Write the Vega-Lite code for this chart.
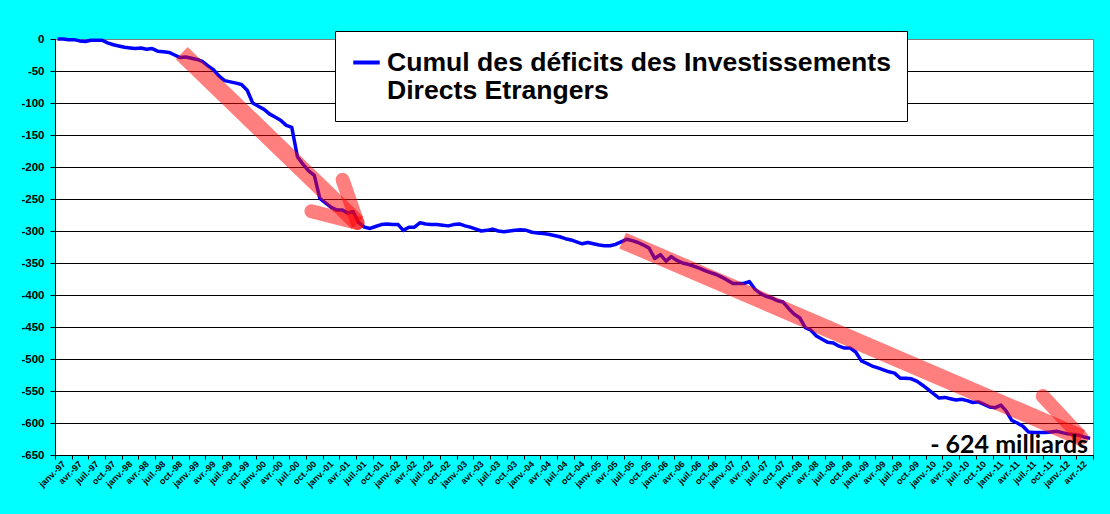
{
  "$schema": "https://vega.github.io/schema/vega-lite/v6.json",
  "width": 1038,
  "height": 416,
  "autosize": {"type": "none"},
  "padding": {"left": 55, "top": 39, "right": 17, "bottom": 59},
  "background": "#00FFFF",
  "config": {
    "view": {"fill": "white", "stroke": "#808080", "strokeWidth": 1},
    "font": "Liberation Sans"
  },
  "datasets": {
    "serie": [
      {"d": "1997-01-15", "v": 0}, {"d": "1997-02-15", "v": 0}, {"d": "1997-03-15", "v": -1}, {"d": "1997-04-15", "v": -1},
      {"d": "1997-05-15", "v": -3}, {"d": "1997-06-15", "v": -4}, {"d": "1997-07-15", "v": -2}, {"d": "1997-08-15", "v": -2},
      {"d": "1997-09-15", "v": -2}, {"d": "1997-10-15", "v": -6}, {"d": "1997-11-15", "v": -9}, {"d": "1997-12-15", "v": -11},
      {"d": "1998-01-15", "v": -13}, {"d": "1998-02-15", "v": -14}, {"d": "1998-03-15", "v": -15}, {"d": "1998-04-15", "v": -14},
      {"d": "1998-05-15", "v": -16}, {"d": "1998-06-15", "v": -15}, {"d": "1998-07-15", "v": -19}, {"d": "1998-08-15", "v": -20},
      {"d": "1998-09-15", "v": -21}, {"d": "1998-10-15", "v": -25}, {"d": "1998-11-15", "v": -29}, {"d": "1998-12-15", "v": -28},
      {"d": "1999-01-15", "v": -30}, {"d": "1999-02-15", "v": -32}, {"d": "1999-03-15", "v": -35}, {"d": "1999-04-15", "v": -42},
      {"d": "1999-05-15", "v": -48}, {"d": "1999-06-15", "v": -58}, {"d": "1999-07-15", "v": -65}, {"d": "1999-08-15", "v": -67},
      {"d": "1999-09-15", "v": -69}, {"d": "1999-10-15", "v": -71}, {"d": "1999-11-15", "v": -80}, {"d": "1999-12-15", "v": -100},
      {"d": "2000-01-15", "v": -105}, {"d": "2000-02-15", "v": -110}, {"d": "2000-03-15", "v": -117}, {"d": "2000-04-15", "v": -122},
      {"d": "2000-05-15", "v": -127}, {"d": "2000-06-15", "v": -135}, {"d": "2000-07-15", "v": -138}, {"d": "2000-08-15", "v": -184},
      {"d": "2000-09-15", "v": -196}, {"d": "2000-10-15", "v": -206}, {"d": "2000-11-15", "v": -213}, {"d": "2000-12-15", "v": -249},
      {"d": "2001-01-15", "v": -256}, {"d": "2001-02-15", "v": -263}, {"d": "2001-03-15", "v": -267}, {"d": "2001-04-15", "v": -267},
      {"d": "2001-05-15", "v": -272}, {"d": "2001-06-15", "v": -270}, {"d": "2001-07-15", "v": -287}, {"d": "2001-08-15", "v": -294},
      {"d": "2001-09-15", "v": -296}, {"d": "2001-10-15", "v": -293}, {"d": "2001-11-15", "v": -290}, {"d": "2001-12-15", "v": -289},
      {"d": "2002-01-15", "v": -290}, {"d": "2002-02-15", "v": -290}, {"d": "2002-03-15", "v": -299}, {"d": "2002-04-15", "v": -294},
      {"d": "2002-05-15", "v": -294}, {"d": "2002-06-15", "v": -287}, {"d": "2002-07-15", "v": -289}, {"d": "2002-08-15", "v": -290},
      {"d": "2002-09-15", "v": -290}, {"d": "2002-10-15", "v": -291}, {"d": "2002-11-15", "v": -292}, {"d": "2002-12-15", "v": -290},
      {"d": "2003-01-15", "v": -289}, {"d": "2003-02-15", "v": -292}, {"d": "2003-03-15", "v": -294}, {"d": "2003-04-15", "v": -297},
      {"d": "2003-05-15", "v": -300}, {"d": "2003-06-15", "v": -299}, {"d": "2003-07-15", "v": -297}, {"d": "2003-08-15", "v": -300},
      {"d": "2003-09-15", "v": -301}, {"d": "2003-10-15", "v": -300}, {"d": "2003-11-15", "v": -299}, {"d": "2003-12-15", "v": -298},
      {"d": "2004-01-15", "v": -299}, {"d": "2004-02-15", "v": -302}, {"d": "2004-03-15", "v": -303}, {"d": "2004-04-15", "v": -304},
      {"d": "2004-05-15", "v": -305}, {"d": "2004-06-15", "v": -307}, {"d": "2004-07-15", "v": -309}, {"d": "2004-08-15", "v": -312},
      {"d": "2004-09-15", "v": -314}, {"d": "2004-10-15", "v": -317}, {"d": "2004-11-15", "v": -320}, {"d": "2004-12-15", "v": -318},
      {"d": "2005-01-15", "v": -320}, {"d": "2005-02-15", "v": -322}, {"d": "2005-03-15", "v": -323}, {"d": "2005-04-15", "v": -323},
      {"d": "2005-05-15", "v": -321}, {"d": "2005-06-15", "v": -317}, {"d": "2005-07-15", "v": -313}, {"d": "2005-08-15", "v": -315},
      {"d": "2005-09-15", "v": -318}, {"d": "2005-10-15", "v": -322}, {"d": "2005-11-15", "v": -327}, {"d": "2005-12-15", "v": -343},
      {"d": "2006-01-15", "v": -337}, {"d": "2006-02-15", "v": -347}, {"d": "2006-03-15", "v": -340}, {"d": "2006-04-15", "v": -346},
      {"d": "2006-05-15", "v": -350}, {"d": "2006-06-15", "v": -352}, {"d": "2006-07-15", "v": -355}, {"d": "2006-08-15", "v": -358},
      {"d": "2006-09-15", "v": -362}, {"d": "2006-10-15", "v": -365}, {"d": "2006-11-15", "v": -368}, {"d": "2006-12-15", "v": -372},
      {"d": "2007-01-15", "v": -377}, {"d": "2007-02-15", "v": -382}, {"d": "2007-03-15", "v": -382}, {"d": "2007-04-15", "v": -382},
      {"d": "2007-05-15", "v": -379}, {"d": "2007-06-15", "v": -391}, {"d": "2007-07-15", "v": -398}, {"d": "2007-08-15", "v": -402},
      {"d": "2007-09-15", "v": -405}, {"d": "2007-10-15", "v": -409}, {"d": "2007-11-15", "v": -411}, {"d": "2007-12-15", "v": -421},
      {"d": "2008-01-15", "v": -430}, {"d": "2008-02-15", "v": -436}, {"d": "2008-03-15", "v": -451}, {"d": "2008-04-15", "v": -455},
      {"d": "2008-05-15", "v": -464}, {"d": "2008-06-15", "v": -469}, {"d": "2008-07-15", "v": -474}, {"d": "2008-08-15", "v": -475},
      {"d": "2008-09-15", "v": -480}, {"d": "2008-10-15", "v": -483}, {"d": "2008-11-15", "v": -483}, {"d": "2008-12-15", "v": -489},
      {"d": "2009-01-15", "v": -503}, {"d": "2009-02-15", "v": -507}, {"d": "2009-03-15", "v": -511}, {"d": "2009-04-15", "v": -514},
      {"d": "2009-05-15", "v": -517}, {"d": "2009-06-15", "v": -520}, {"d": "2009-07-15", "v": -522}, {"d": "2009-08-15", "v": -530},
      {"d": "2009-09-15", "v": -530}, {"d": "2009-10-15", "v": -531}, {"d": "2009-11-15", "v": -535}, {"d": "2009-12-15", "v": -541},
      {"d": "2010-01-15", "v": -548}, {"d": "2010-02-15", "v": -555}, {"d": "2010-03-15", "v": -561}, {"d": "2010-04-15", "v": -560},
      {"d": "2010-05-15", "v": -562}, {"d": "2010-06-15", "v": -564}, {"d": "2010-07-15", "v": -563}, {"d": "2010-08-15", "v": -565},
      {"d": "2010-09-15", "v": -568}, {"d": "2010-10-15", "v": -567}, {"d": "2010-11-15", "v": -571}, {"d": "2010-12-15", "v": -575},
      {"d": "2011-01-15", "v": -576}, {"d": "2011-02-15", "v": -572}, {"d": "2011-03-15", "v": -581}, {"d": "2011-04-15", "v": -596},
      {"d": "2011-05-15", "v": -600}, {"d": "2011-06-15", "v": -605}, {"d": "2011-07-15", "v": -614}, {"d": "2011-08-15", "v": -615},
      {"d": "2011-09-15", "v": -615}, {"d": "2011-10-15", "v": -615}, {"d": "2011-11-15", "v": -614}, {"d": "2011-12-15", "v": -613},
      {"d": "2012-01-15", "v": -615}, {"d": "2012-02-15", "v": -617}, {"d": "2012-03-15", "v": -618}, {"d": "2012-04-15", "v": -619},
      {"d": "2012-05-15", "v": -622}, {"d": "2012-06-15", "v": -624}
    ],
    "fleches": [
      {"d1": "1998-11-23", "v1": -22, "d2": "2001-07-09", "v2": -287.5},
      {"d1": "2005-06-23", "v1": -315, "d2": "2012-04-30", "v2": -623}
    ],
    "ailes": [
      {"d1": "2001-04-18", "v1": -220, "d2": "2001-07-09", "v2": -287.5},
      {"d1": "2000-10-30", "v1": -269, "d2": "2001-07-09", "v2": -287.5},
      {"d1": "2011-10-01", "v1": -558, "d2": "2012-04-30", "v2": -623}
    ],
    "note": [
      {"d": "2012-06-15", "v": -624, "t": "- 624 milliards"}
    ]
  },
  "layer": [
    {
      "data": {"name": "serie"},
      "mark": {"type": "line", "strokeWidth": 3.5, "strokeJoin": "round"},
      "encoding": {
        "x": {
          "field": "d",
          "type": "temporal",
          "scale": {
            "type": "utc",
            "nice": false,
            "domain": [
              {"year": 1997, "month": 1, "date": 1, "utc": true},
              {"year": 2012, "month": 7, "date": 1, "utc": true}
            ]
          },
          "axis": {
            "title": null,
            "grid": false,
            "tickCount": {"interval": "month", "step": 3},
            "labelExpr": "(utcyear(datum.value) == 2012 && utcmonth(datum.value) == 6) ? '' : (['janv.', 'avr.', 'juil.', 'oct.'][floor(utcmonth(datum.value) / 3)] + '-' + utcFormat(datum.value, '%y'))",
            "labelAngle": -45,
            "labelAlign": "right",
            "labelBaseline": "middle",
            "labelOffset": 8.4,
            "labelPadding": 3,
            "labelFont": "Liberation Sans",
            "labelFontSize": 9,
            "labelFontWeight": "bold",
            "labelColor": "black",
            "labelOverlap": false,
            "labelFlush": false,
            "labelBound": false,
            "tickSize": 4,
            "tickColor": "black",
            "domainColor": "black"
          }
        },
        "y": {
          "field": "v",
          "type": "quantitative",
          "scale": {"domain": [-650, 0], "nice": false, "zero": false},
          "axis": {
            "title": null,
            "values": [0, -50, -100, -150, -200, -250, -300, -350, -400, -450, -500, -550, -600, -650],
            "tickCount": 20,
            "labelExpr": "'' + datum.value",
            "labelFont": "Liberation Sans",
            "labelFontSize": 11.5,
            "labelFontWeight": "bold",
            "labelColor": "black",
            "labelPadding": 6,
            "labelOverlap": false,
            "labelFlush": false,
            "labelBound": false,
            "tickSize": 5,
            "tickColor": "black",
            "domainColor": "black",
            "grid": true,
            "gridColor": {"condition": {"test": "datum.value === 0", "value": "#808080"}, "value": "black"},
            "gridOpacity": 1,
            "gridWidth": 1
          }
        },
        "color": {
          "datum": "Cumul des déficits des Investissements Directs Etrangers",
          "type": "nominal",
          "scale": {"range": ["#0000FF"]},
          "legend": {
            "title": null,
            "orient": "none",
            "legendX": 280,
            "legendY": -8,
            "fillColor": "white",
            "strokeColor": "black",
            "padding": 16,
            "symbolType": "stroke",
            "symbolStrokeWidth": 4,
            "symbolSize": 700,
            "labelFont": "Liberation Sans",
            "labelFontWeight": "bold",
            "labelFontSize": 26.6,
            "labelColor": "black",
            "labelLimit": 800,
            "labelOffset": 5,
            "labelExpr": "['Cumul des déficits des Investissements', 'Directs Etrangers']"
          }
        }
      }
    },
    {
      "data": {"name": "fleches"},
      "mark": {"type": "rule", "color": "#FF0000", "opacity": 0.5, "strokeWidth": 17, "strokeCap": "butt"},
      "encoding": {
        "x": {"field": "d1", "type": "temporal"},
        "x2": {"field": "d2"},
        "y": {"field": "v1", "type": "quantitative"},
        "y2": {"field": "v2"}
      }
    },
    {
      "data": {"name": "ailes"},
      "mark": {"type": "rule", "color": "#FF0000", "opacity": 0.5, "strokeWidth": 14, "strokeCap": "round"},
      "encoding": {
        "x": {"field": "d1", "type": "temporal"},
        "x2": {"field": "d2"},
        "y": {"field": "v1", "type": "quantitative"},
        "y2": {"field": "v2"}
      }
    },
    {
      "data": {"name": "note"},
      "mark": {"type": "text", "font": "Lato", "fontWeight": "bold", "fontSize": 25, "align": "right", "baseline": "alphabetic", "dx": -2, "dy": 15, "color": "black"},
      "encoding": {
        "x": {"field": "d", "type": "temporal"},
        "y": {"field": "v", "type": "quantitative"},
        "text": {"field": "t"}
      }
    }
  ]
}
